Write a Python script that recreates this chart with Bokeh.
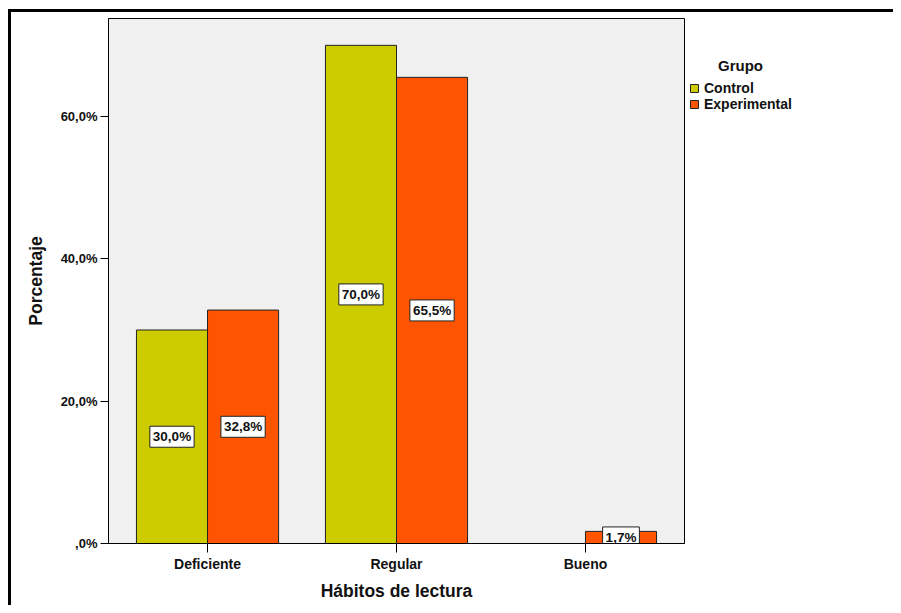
from bokeh.plotting import figure
from bokeh.layouts import row
from bokeh.models import (ColumnDataSource, FactorRange, Range1d, Legend, LegendItem,
                          Label, FixedTicker)
from bokeh.transform import dodge
from bokeh.core.properties import value
from bokeh.embed import file_html
from bokeh.resources import INLINE

# ---- data ----
categories = ["Deficiente", "Regular", "Bueno"]
control = [30.0, 70.0, 0.0]
experimental = [32.8, 65.5, 1.7]
series_names = ["Control", "Experimental"]
legend_title = "Grupo"
y_ticks = [0, 20, 40, 60]
y_tick_labels = [",0%", "20,0%", "40,0%", "60,0%"]

FONT = "Liberation Sans"
TXT = "#111111"
C_CONTROL = "#CCCC00"
C_EXP = "#FF5500"
EDGE = "#222222"
BAR_W = 0.376
OFF = 0.188


def fmt(v):
    return f"{v:.1f}".replace(".", ",") + "%"


src = ColumnDataSource(dict(cat=categories, control=control, experimental=experimental))

lab_c = ColumnDataSource(dict(
    cat=[c for c, v in zip(categories, control) if v > 0],
    y=[v / 2 for v in control if v > 0],
    t=[fmt(v) for v in control if v > 0]))
lab_e = ColumnDataSource(dict(
    cat=[c for c, v in zip(categories, experimental) if v > 0],
    y=[v / 2 for v in experimental if v > 0],
    t=[fmt(v) for v in experimental if v > 0]))

p = figure(x_range=FactorRange(factors=categories, range_padding=0.024,
                               range_padding_units="absolute"),
           y_range=Range1d(0, 73.77),
           width=677, height=596, output_backend="svg", toolbar_location=None,
           min_border_left=100, min_border_top=9, min_border_right=1,
           min_border_bottom=62)

p.border_fill_alpha = 0
p.background_fill_color = "#F0F0F0"
p.outline_line_color = "black"
p.outline_line_width = 1
p.xgrid.visible = False
p.ygrid.visible = False

r1 = p.vbar(x=dodge("cat", -OFF, range=p.x_range), top="control", width=BAR_W,
            fill_color=C_CONTROL, line_color=EDGE, line_width=1, source=src)
r2 = p.vbar(x=dodge("cat", OFF, range=p.x_range), top="experimental", width=BAR_W,
            fill_color=C_EXP, line_color=EDGE, line_width=1, source=src)

for s, off in ((lab_c, -OFF), (lab_e, OFF)):
    p.text(x=dodge("cat", off, range=p.x_range), y="y", text="t", source=s,
           text_align="center", text_baseline="middle",
           text_font=value(FONT), text_font_style="bold", text_font_size="13.5px",
           text_color=TXT,
           background_fill_color="white", border_line_color=EDGE,
           border_line_width=1, padding=3)

# axes
p.yaxis.ticker = FixedTicker(ticks=y_ticks)
p.yaxis.major_label_overrides = {t: l for t, l in zip(y_ticks, y_tick_labels)}
for ax in (p.xaxis[0], p.yaxis[0]):
    ax.axis_line_color = "black"
    ax.major_tick_line_color = "black"
    ax.minor_tick_line_color = None
    ax.major_tick_in = 0
    ax.major_label_text_font = FONT
    ax.major_label_text_font_style = "bold"
    ax.major_label_text_color = TXT
    ax.axis_label_text_font = FONT
    ax.axis_label_text_font_style = "bold"
    ax.axis_label_text_font_size = "17.5px"
    ax.axis_label_text_color = TXT
    ax.major_label_standoff = 3

p.yaxis.major_label_text_font_size = "13px"
p.xaxis.major_label_text_font_size = "14px"
p.yaxis.major_tick_out = 8
p.xaxis.major_tick_out = 9
p.yaxis.axis_label = "Porcentaje"
p.xaxis.axis_label = "Hábitos de lectura"
p.yaxis.axis_label_standoff = 12
p.xaxis.axis_label_standoff = 6

# ---- legend panel (same data, bars kept far outside its visible area) ----
q = figure(width=208, height=596, x_range=FactorRange(factors=categories),
           y_range=Range1d(-20, -10),
           output_backend="svg", toolbar_location=None,
           x_axis_location=None, y_axis_location=None, min_border=0)
q.grid.visible = False
q.outline_line_color = None
q.background_fill_alpha = 0
q.border_fill_alpha = 0

d1 = q.vbar(x=dodge("cat", 30, range=q.x_range), top="control", width=0.5,
            fill_color=C_CONTROL, line_color=EDGE, source=src)
d2 = q.vbar(x=dodge("cat", 30, range=q.x_range), top="experimental", width=0.5,
            fill_color=C_EXP, line_color=EDGE, source=src)

# the legend panel's frame is aligned with the main frame (y 9..534 in figure px)
legend = Legend(items=[LegendItem(label=series_names[0], renderers=[d1]),
                       LegendItem(label=series_names[1], renderers=[d2])],
                location=(4, 431), glyph_width=10, glyph_height=10,
                label_text_font=FONT, label_text_font_style="bold",
                label_text_font_size="14px", label_text_color=TXT,
                label_standoff=5, label_height=15, spacing=0, padding=0, margin=0,
                border_line_color=None, background_fill_alpha=0)
q.add_layout(legend)

q.add_layout(Label(x=55, y=478, x_units="screen", y_units="screen", text=legend_title,
                   text_align="center", text_baseline="middle",
                   text_font=FONT, text_font_style="bold",
                   text_font_size="15px", text_color=TXT))

layout = row(p, q)
layout.styles = {"margin-left": "8px", "margin-top": "9px",
                 "box-shadow": "inset 3px 3px 0 0 black"}

open("out.html", "w").write(file_html(layout, INLINE))
